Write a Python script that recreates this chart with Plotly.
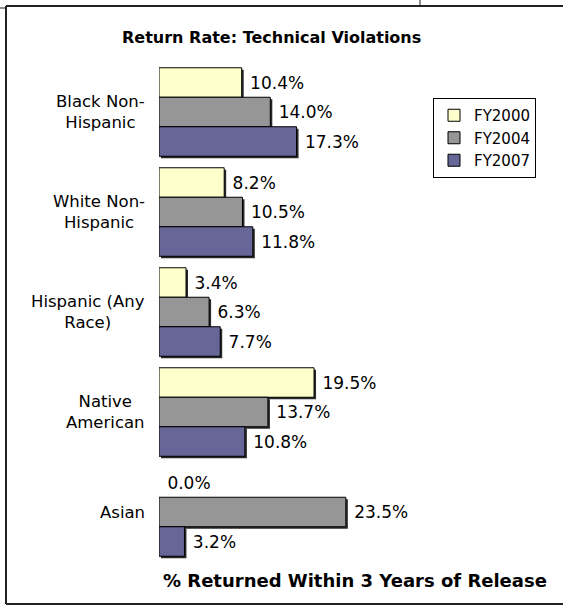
import plotly.graph_objects as go

# Return rates (% returned within 3 years) for technical violations
categories = ["Black Non-<br>Hispanic", "White Non-<br>Hispanic", "Hispanic (Any<br>Race)",
              "Native<br>American", "Asian"]
fy2000 = [10.4, 8.2, 3.4, 19.5, 0.0]
fy2004 = [14.0, 10.5, 6.3, 13.7, 23.5]
fy2007 = [17.3, 11.8, 7.7, 10.8, 3.2]
series_names = ["FY2000", "FY2004", "FY2007"]
series_colors = ["#FFFFCC", "#969696", "#666699"]

W, H = 563, 613
ML, MR, MT, MB = 159, 0, 62, 51
PW, PH = W - ML - MR, H - MT - MB
X_MAX = 25
X_PX = 198.75  # pixel length of the value axis

def px_x(p):
    return (p - ML) / PW

def px_y(p):
    return (H - MB - p) / PH

FONT = "DejaVu Sans"
pos = list(range(len(categories)))
bar_w = 0.295
start = -1.5 * bar_w
shadow_dx = 2 / X_PX * X_MAX
shadow_dy = 0.02

fig = go.Figure()
for i, (name, vals, col) in enumerate(zip(series_names, [fy2000, fy2004, fy2007], series_colors)):
    off = start + i * bar_w
    # drop shadow
    fig.add_trace(go.Bar(
        y=pos, x=vals, base=shadow_dx, orientation="h", width=bar_w, offset=off + shadow_dy,
        marker=dict(color="#2a2a2a", line=dict(width=0)), showlegend=False, hoverinfo="skip",
    ))
    fig.add_trace(go.Bar(
        y=pos, x=vals, orientation="h", width=bar_w, offset=off, name=name,
        marker=dict(color=col, line=dict(color="black", width=[1 if v > 0 else 0 for v in vals])),
        text=[f" {v:.1f}%" for v in vals], textposition="outside", cliponaxis=False,
        textfont=dict(family=FONT, size=17, color="black"),
    ))

fig.update_layout(
    width=W, height=H, margin=dict(l=ML, r=MR, t=MT, b=MB),
    paper_bgcolor="white", plot_bgcolor="white", barmode="overlay",
    showlegend=True,
    legend=dict(x=px_x(433), y=px_y(98), xanchor="left", yanchor="top",
                bordercolor="black", borderwidth=1, bgcolor="white",
                font=dict(family=FONT, size=15, color="black"),
                itemwidth=30, tracegroupgap=0),
    xaxis=dict(domain=[0, X_PX / PW], range=[0, X_MAX], showgrid=False, zeroline=False,
               showticklabels=False, showline=False, ticks=""),
    yaxis=dict(range=[len(categories) - 0.5, -0.5], showgrid=False, zeroline=False,
               showticklabels=False, showline=False, ticks=""),
    font=dict(family=FONT, color="black"),
)

# category labels, lines centred within each label block
for p, lab in zip(pos, categories):
    fig.add_annotation(x=px_x(147), y=p, xref="paper", yref="y", text=lab, showarrow=False,
                       xanchor="right", yanchor="middle", align="center",
                       font=dict(family=FONT, size=16.5, color="black"))

fig.add_annotation(x=px_x(271), y=px_y(38), xref="paper", yref="paper",
                   text="<b>Return Rate: Technical Violations</b>", showarrow=False,
                   xanchor="center", yanchor="middle", font=dict(family=FONT, size=16, color="black"))
fig.add_annotation(x=px_x(355), y=px_y(580), xref="paper", yref="paper",
                   text="<b>% Returned Within 3 Years of Release</b>", showarrow=False,
                   xanchor="center", yanchor="middle", font=dict(family=FONT, size=18, color="black"))

# chart frame
frame = dict(color="#222222", width=2)
fig.add_shape(type="line", xref="paper", yref="paper", x0=px_x(6), x1=px_x(570),
              y0=px_y(6), y1=px_y(6), line=frame)
fig.add_shape(type="line", xref="paper", yref="paper", x0=px_x(6), x1=px_x(6),
              y0=px_y(6), y1=px_y(604), line=frame)
fig.add_shape(type="line", xref="paper", yref="paper", x0=px_x(6), x1=px_x(570),
              y0=px_y(604), y1=px_y(604), line=frame)
fig.add_shape(type="line", xref="paper", yref="paper", x0=px_x(0), x1=px_x(6),
              y0=px_y(8), y1=px_y(8), line=dict(color="#222222", width=1))
fig.add_shape(type="line", xref="paper", yref="paper", x0=px_x(420), x1=px_x(420),
              y0=px_y(0), y1=px_y(6), line=dict(color="#222222", width=1))

fig.write_html("out.html")
